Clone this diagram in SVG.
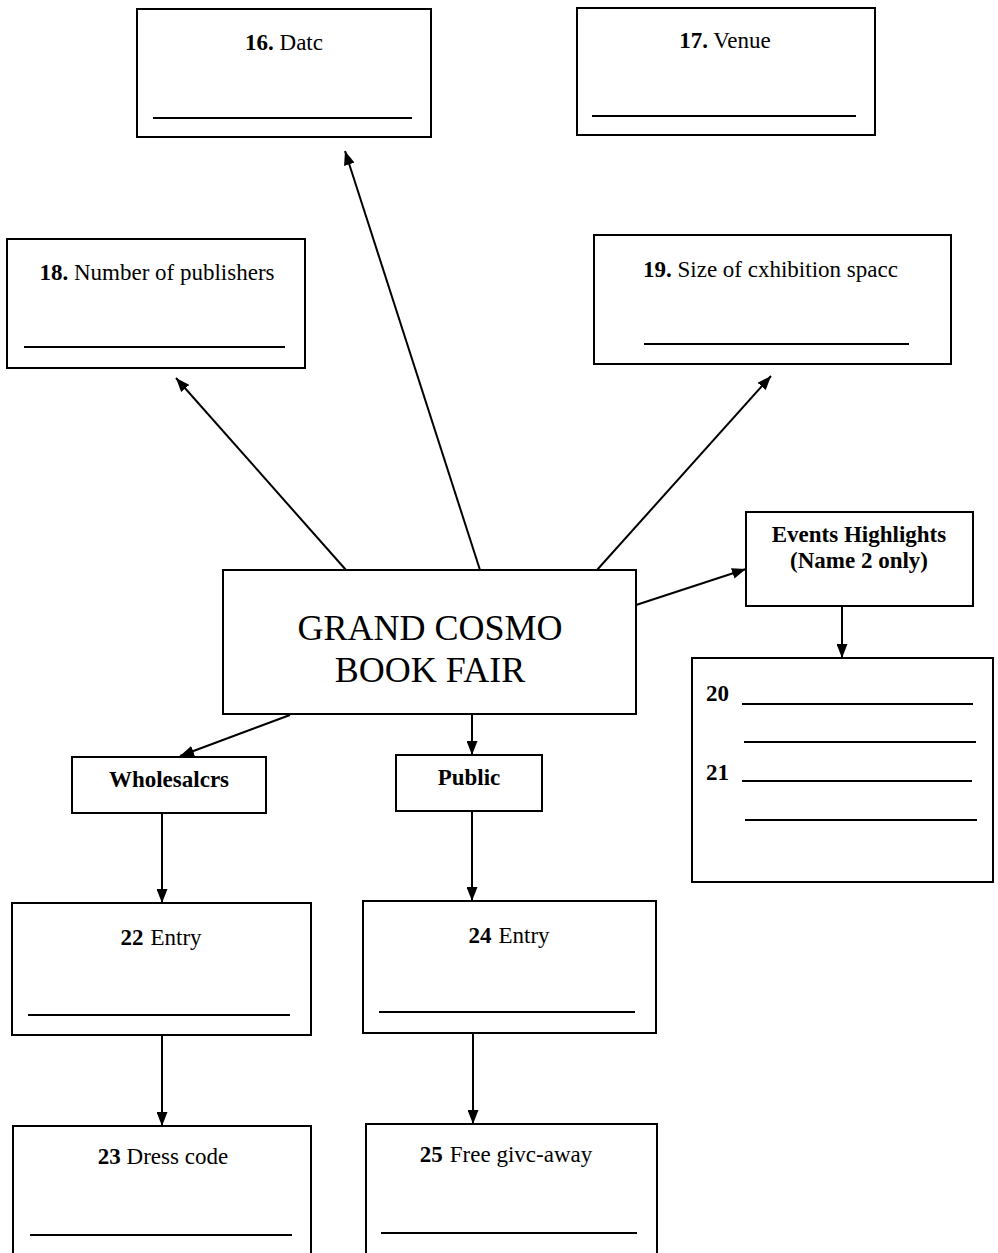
<svg xmlns="http://www.w3.org/2000/svg" width="998" height="1253" viewBox="0 0 998 1253">
<defs>
<marker id="ah" viewBox="0 0 14 11" refX="14" refY="5.5" markerWidth="14" markerHeight="11" markerUnits="userSpaceOnUse" orient="auto">
<path d="M0,0 L14,5.5 L0,11 Z" fill="#000"/>
</marker>
<style>
.box{fill:#fff;stroke:#000;stroke-width:2}
.fill{stroke:#000;stroke-width:2}
.conn{stroke:#000;stroke-width:2;fill:none;marker-end:url(#ah)}
text{font-family:"Liberation Serif","Times New Roman",serif;font-size:23px;fill:#000}
.b{font-weight:bold}
.mid{text-anchor:middle}
.big{font-size:36px}
</style>
</defs>
<rect width="998" height="1253" fill="#fff"/>
<g id="connectors">
<line class="conn" x1="480" y1="570" x2="345" y2="151"/>
<line class="conn" x1="346" y1="570" x2="176" y2="378"/>
<line class="conn" x1="597" y1="570" x2="771" y2="376"/>
<line class="conn" x1="636" y1="605" x2="746" y2="569"/>
<line class="conn" x1="290" y1="715" x2="180" y2="756"/>
<line class="conn" x1="472" y1="714" x2="472" y2="755"/>
<line class="conn" x1="842" y1="606" x2="842" y2="658"/>
<line class="conn" x1="162" y1="813" x2="162" y2="903"/>
<line class="conn" x1="472" y1="811" x2="472" y2="901"/>
<line class="conn" x1="162" y1="1035" x2="162" y2="1126"/>
<line class="conn" x1="473" y1="1033" x2="473" y2="1124"/>
</g>
<g id="n16">
<rect class="box" x="137" y="9" width="294" height="128"/>
<text class="mid" x="284" y="50"><tspan class="b">16.</tspan> Datc</text>
<line class="fill" x1="153" y1="118" x2="412" y2="118"/>
</g>
<g id="n17">
<rect class="box" x="577" y="8" width="298" height="127"/>
<text class="mid" x="725" y="48"><tspan class="b">17.</tspan> Venue</text>
<line class="fill" x1="592" y1="116" x2="856" y2="116"/>
</g>
<g id="n18">
<rect class="box" x="7" y="239" width="298" height="129"/>
<text class="mid" x="157" y="280"><tspan class="b">18.</tspan> Number of publishers</text>
<line class="fill" x1="24" y1="347" x2="285" y2="347"/>
</g>
<g id="n19">
<rect class="box" x="594" y="235" width="357" height="129"/>
<text x="643" y="277"><tspan class="b">19.</tspan> Size of cxhibition spacc</text>
<line class="fill" x1="644" y1="344" x2="909" y2="344"/>
</g>
<g id="center">
<rect class="box" x="223" y="570" width="413" height="144"/>
<text class="mid big" x="430" y="640">GRAND COSMO</text>
<text class="mid big" x="430" y="682">BOOK FAIR</text>
</g>
<g id="events">
<rect class="box" x="746" y="512" width="227" height="94"/>
<text class="mid b" x="859" y="542">Events Highlights</text>
<text class="mid b" x="859" y="568">(Name 2 only)</text>
</g>
<g id="n20-21">
<rect class="box" x="692" y="658" width="301" height="224"/>
<text class="b" x="706" y="701">20</text>
<line class="fill" x1="742" y1="704" x2="973" y2="704"/>
<line class="fill" x1="744" y1="742" x2="976" y2="742"/>
<text class="b" x="706" y="780">21</text>
<line class="fill" x1="742" y1="781" x2="972" y2="781"/>
<line class="fill" x1="745" y1="820" x2="977" y2="820"/>
</g>
<g id="wholesalers">
<rect class="box" x="72" y="757" width="194" height="56"/>
<text class="mid b" x="169" y="787">Wholesalcrs</text>
</g>
<g id="public">
<rect class="box" x="396" y="755" width="146" height="56"/>
<text class="mid b" x="469" y="785">Public</text>
</g>
<g id="n22">
<rect class="box" x="12" y="903" width="299" height="132"/>
<text class="mid" x="161" y="945"><tspan class="b">22</tspan><tspan dx="7">Entry</tspan></text>
<line class="fill" x1="28" y1="1015" x2="290" y2="1015"/>
</g>
<g id="n24">
<rect class="box" x="363" y="901" width="293" height="132"/>
<text class="mid" x="509" y="943"><tspan class="b">24</tspan><tspan dx="7">Entry</tspan></text>
<line class="fill" x1="379" y1="1012" x2="635" y2="1012"/>
</g>
<g id="n23">
<rect class="box" x="13" y="1126" width="298" height="140"/>
<text class="mid" x="163" y="1164"><tspan class="b">23</tspan> Dress code</text>
<line class="fill" x1="30" y1="1235" x2="292" y2="1235"/>
</g>
<g id="n25">
<rect class="box" x="366" y="1124" width="291" height="140"/>
<text class="mid" x="506" y="1162"><tspan class="b">25</tspan><tspan dx="7">Free givc-away</tspan></text>
<line class="fill" x1="381" y1="1233" x2="637" y2="1233"/>
</g>
</svg>
